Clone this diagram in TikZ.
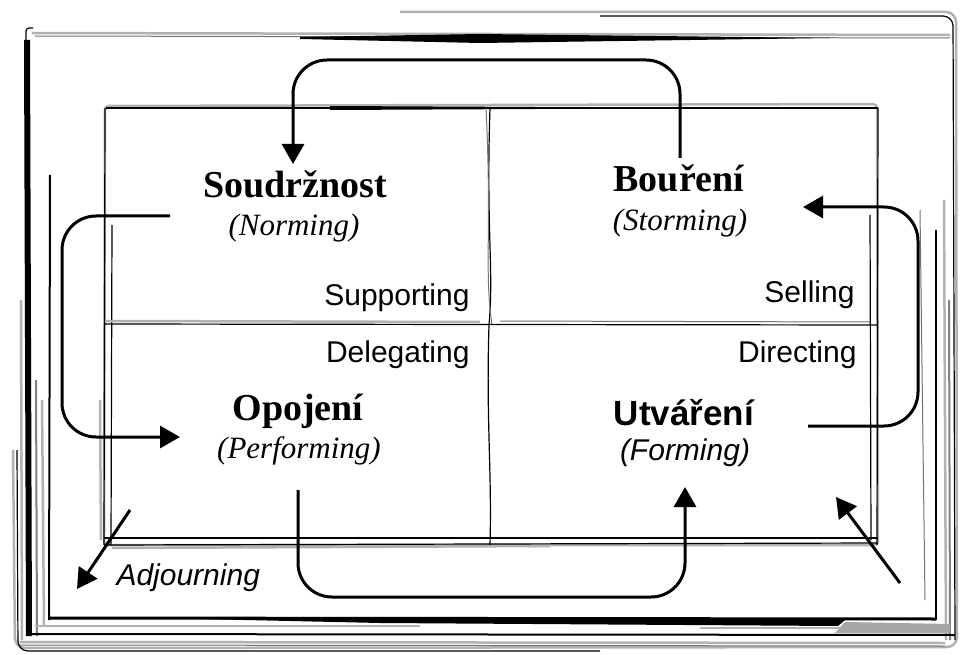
\documentclass[tikz,border=0pt]{standalone}
\usepackage{fontspec}
\newfontfamily\lsans{Liberation Sans}
\newfontfamily\lserif{Liberation Serif}
\usetikzlibrary{arrows.meta}
\begin{document}
\begin{tikzpicture}[x=1pt,y=-1pt,
  flow/.style={line width=3pt, rounded corners=34pt, -{Triangle[length=20pt,width=22pt]}},
  straw/.style={line width=3pt, -{Triangle[length=20pt,width=22pt]}},
  ttl/.style={anchor=base, font=\lserif\fontsize{38}{42}\selectfont\bfseries},
  sub/.style={anchor=base, font=\lserif\fontsize{31}{36}\selectfont\itshape},
  lbl/.style={font=\lsans\fontsize{30}{34}\selectfont},
  gry/.style={draw=black!30, line width=2.5pt},
  gryd/.style={draw=black!50, line width=2pt},
  gryl/.style={draw=black!55, line width=1pt},
  blk/.style={draw=black, line width=1.2pt},
  blkm/.style={draw=black, line width=2pt},
  blkt/.style={draw=black, line width=3pt}]
\useasboundingbox (0,0) rectangle (961,655);
\fill[white] (0,0) rectangle (961,655);

% ---------- outer sketchy frame ----------
\draw[gry, rounded corners=10pt] (400,12) -- (956,12) -- (957,647) -- (15,648) -- (13,450);
\draw[blk, rounded corners=10pt] (600,16) -- (953,16) -- (955,640);
\draw[blk, rounded corners=10pt] (17,450) -- (18,651) -- (600,651);
% top strokes
\draw[gry] (32,33) -- (950,35);
\draw[gryl] (35,36) -- (950,38);
\fill (300,37) -- (480,34) -- (830,38) -- (480,43) -- (300,39) -- cycle;
\draw[blk, rounded corners=3pt] (26,60) -- (26,28) -- (33,28);
% left strokes
\fill (24,40) -- (30,40) -- (32,636) -- (26,636) -- cycle;
\draw[gry] (21,300) -- (22,640);
\draw[gryd] (36,380) -- (37,636);
\draw[blkm] (50,175) -- (49,620);
\draw[gry] (42,400) -- (44,625);
% right strokes
\draw[gry] (944,200) -- (946,640);
\draw[gryd] (949,300) -- (950,640);
\draw[blkm] (936,230) -- (936,620);
\draw[gryl] (920,210) -- (925,600);
% bottom strokes
\draw[blkt] (48,618) -- (936,619);
\draw[gry] (35,626) -- (420,626);
\draw[gry] (700,628) -- (950,628);
\fill[black!35] (845,622) -- (950,624) -- (950,633) -- (835,633) -- cycle;
\fill (200,619) -- (845,620) -- (838,626) -- (380,623) -- cycle;
\draw[blkm] (30,634) -- (955,635);
\draw[gry] (20,642) -- (945,643);
\draw[gryl] (20,645) -- (945,646);

% ---------- inner grid ----------
\draw[gry, rounded corners=4pt] (105,106) -- (877,104) -- (878,545) -- (104,545) -- cycle;
\draw[blk] (106,108) -- (878,108);
\fill (330,106) -- (740,108) -- (330,110) -- cycle;
\draw[blk] (105,108) -- (104,545);
\draw[blk] (112,225) -- (111,545);
\draw[gry] (100,400) -- (101,540);
\draw[blk] (870,215) -- (871,540);
\draw[blk] (878,108) -- (877,545);
\draw[blk] (104,538) -- (878,538);
\draw[gry] (112,548) -- (550,546);
\draw[blk] (104,545) -- (878,543);
% middle cross
\draw[blk] (490,108) .. controls (486,230) and (494,270) .. (489,325) .. controls (486,420) and (492,470) .. (490,545);
\draw[gryl] (486,108) .. controls (492,230) and (484,270) .. (492,325);
\draw[blk] (105,324) -- (877,325);
\draw[gry] (105,321) -- (480,322);
\draw[gryl] (500,321) -- (870,322);

% ---------- texts ----------
\node[ttl] (sou) at (295,198) {Soudržnost};
\node[sub] (nor) at (294,236) {(Norming)};
\node[ttl] (bou) at (679,192) {Bouření};
\node[sub] (sto) at (680,230) {(Storming)};
\node[ttl] (opo) at (298,420) {Opojení};
\node[sub] (per) at (299,458) {(Performing)};
\node[anchor=base, font=\lsans\fontsize{35}{40}\selectfont\bfseries] (utv) at (684,425) {Utváření};
\node[anchor=base, font=\lsans\fontsize{30}{34}\selectfont\itshape] (for) at (685,460) {(Forming)};
\node[lbl, anchor=base east] (supp) at (473,305) {Supporting};
\node[lbl, anchor=base east] (sell) at (858,302) {Selling};
\node[lbl, anchor=base east] (dele) at (473,362) {Delegating};
\node[lbl, anchor=base east] (dire) at (860,362) {Directing};
\node[lbl, anchor=base west, font=\lsans\itshape\fontsize{30}{34}\selectfont] (adj) at (113,585) {Adjourning};

% ---------- arrows ----------
\coordinate (bS) at (680,158);
\coordinate (sE) at (293,164);
\draw[flow] (bS) -- (680,60) -- (293,60) -- (sE);
\coordinate (sS) at (170,216);
\coordinate (oE) at (180,437);
\draw[flow] (sS) -- (62,216) -- (62,437) -- (oE);
\coordinate (oS) at (298,490);
\coordinate (uE) at (685,487);
\draw[flow] (oS) -- (298,597) -- (685,597) -- (uE);
\coordinate (uS) at (808,426);
\coordinate (bE) at (803,207);
\draw[flow] (uS) -- (918,426) -- (918,207) -- (bE);
\coordinate (adS) at (130,510);
\coordinate (adE) at (77,589);
\draw[straw] (adS) -- (adE);
\coordinate (inS) at (900,583);
\coordinate (inE) at (836,497);
\draw[straw] (inS) -- (inE);
\end{tikzpicture}
\end{document}
